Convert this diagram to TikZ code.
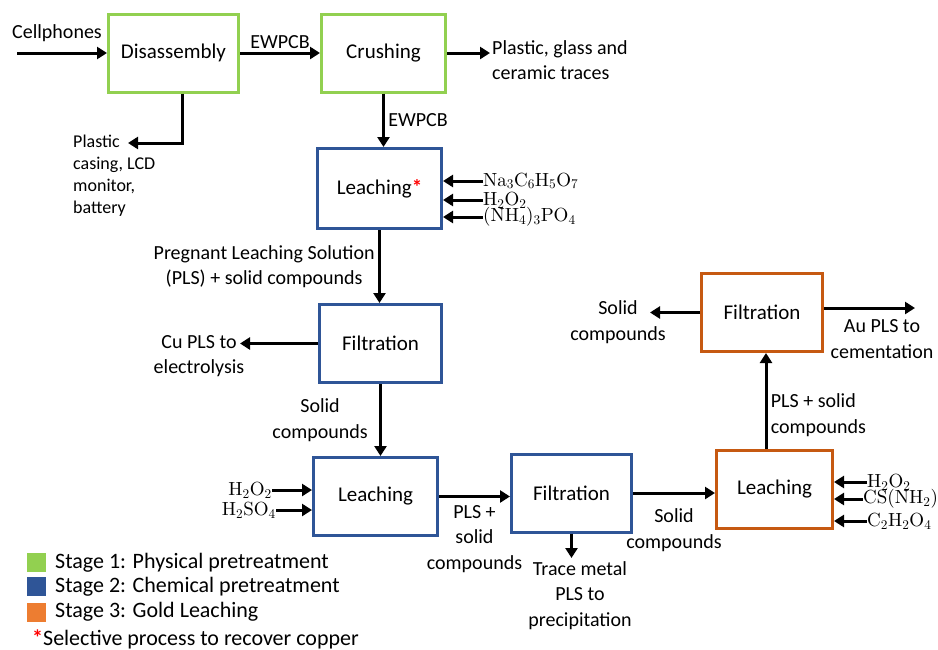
\RequirePackage{fix-cm}
\documentclass[tikz,border=0pt]{standalone}
\usepackage[no-math]{fontspec}
\setmainfont{Carlito}
\newfontfamily\chemfont{lmroman10-regular.otf}
\usepackage{tikz}
\usetikzlibrary{arrows.meta}
\definecolor{stageone}{HTML}{92D050}
\definecolor{stagetwo}{HTML}{2F5597}
\definecolor{stagethree}{HTML}{C65911}
\definecolor{legthree}{HTML}{ED7D31}
\newcommand{\sub}[1]{\textsubscript{#1}}

\begin{document}
\begin{tikzpicture}[x=1pt,y=-1pt,
	font=\fontsize{20}{25.5}\selectfont,
	box/.style={draw,line width=3pt,minimum width=124pt,minimum height=78pt,inner sep=0pt,font=\fontsize{21}{25}\selectfont},
	arr/.style={-{Triangle[length=10pt,width=12pt]},line width=3pt},
	chem/.style={inner sep=0pt,font=\fontsize{19}{21}\chemfont},
	legsq/.style={minimum width=19pt,minimum height=19pt,inner sep=0pt},
	legtxt/.style={anchor=west,inner sep=0pt,font=\fontsize{22}{26}\selectfont}]
	\useasboundingbox (0,0) rectangle (938,649);
	
	\node[box,draw=stageone,minimum width=130pt] (dis) at (173.5,53) {Disassembly};
	\node[box,draw=stageone] (cru) at (383.5,53) {Crushing};
	\node[box,draw=stagetwo,minimum height=80pt] (lea1) at (379.5,188.5) {Leaching{\color{red}\textbf{*}}};
	\node[box,draw=stagetwo,minimum width=122pt] (fil1) at (380.5,343.5) {Filtration};
	\node[box,draw=stagetwo] (lea2) at (375.5,496.5) {Leaching};
	\node[box,draw=stagetwo,minimum width=120pt] (fil2) at (571.5,493) {Filtration};
	\node[box,draw=stagethree,minimum width=116pt] (lea3) at (774.5,489.5) {Leaching};
	\node[box,draw=stagethree,minimum width=121pt] (fil3) at (762,312.5) {Filtration};
	
	\coordinate (cellin) at (17,53);
	\node (cell) at (57,33) {Cellphones};
	\draw[arr] (cellin) -- (dis);
	\draw[arr] (dis) -- (cru) node[midway,above] {EWPCB};
	\node[anchor=west,align=left,inner sep=2pt] (glass) at (490,60) {Plastic, glass and\\ceramic traces};
	\draw[arr] (cru) -- (cru -| glass.west);
	\node[anchor=north west,align=left,inner sep=0pt,font=\fontsize{18}{22}\selectfont] (plast) at (73,135) {Plastic\\casing, LCD\\monitor,\\battery};
	\coordinate (plastend) at (128,143);
	\coordinate (disdown) at ([xshift=8.5pt]dis.south);
	\draw[arr] (disdown) |- (plastend);
	\draw[arr] (cru) -- (cru |- lea1.north) node[midway,right] {EWPCB};
	
	\node[chem,anchor=west] (na) at (483,181) {Na\sub{3}C\sub{6}H\sub{5}O\sub{7}};
	\node[chem,anchor=west] (hh1) at (483,200) {H\sub{2}O\sub{2}};
	\node[chem,anchor=west] (nh) at (483,217) {(NH\sub{4})\sub{3}PO\sub{4}};
	\foreach \c in {na,hh1,nh}
		\draw[arr] (\c.west) -- (\c.west -| lea1.east);
	\draw[arr] (lea1) -- (lea1 |- fil1.north) node[midway,left,align=center] {Pregnant Leaching Solution\\(PLS) + solid compounds};
	
	\node[align=center] (cupls) at (199,356) {Cu PLS to\\electrolysis};
	\coordinate (cuend) at (240,344);
	\draw[arr] (fil1) -- (fil1 -| cuend);
	\draw[arr] (fil1) -- (fil1 |- lea2.north) node[midway,left=8pt,align=center] {Solid\\compounds};
	
	\node[chem,anchor=east] (hh2) at (272,490) {H\sub{2}O\sub{2}};
	\node[chem,anchor=east] (hs) at (276,510) {H\sub{2}SO\sub{4}};
	\foreach \c in {hh2,hs}
		\draw[arr] (\c.east) -- (\c.east -| lea2.west);
	\draw[arr] (lea2) -- (lea2 -| fil2.west) node[midway,below=4pt,align=center] {PLS +\\solid\\compounds};
	
	\node[anchor=north,align=center] (trace) at (580,558) {Trace metal\\PLS to\\precipitation};
	\draw[arr] (fil2) -- (fil2 |- trace.north);
	\draw[arr] (fil2) -- (fil2 -| lea3.west) node[midway,below=11pt,align=center] {Solid\\compounds};
	
	\node[chem,anchor=west] (hh3) at (867,482) {H\sub{2}O\sub{2}};
	\node[chem,anchor=west] (tu) at (863,499) {CS(NH\sub{2})\sub{2}};
	\node[chem,anchor=west] (ox) at (867,521) {C\sub{2}H\sub{2}O\sub{4}};
	\foreach \c in {hh3,tu,ox}
		\draw[arr] (\c.west) -- (\c.west -| lea3.east);
	\coordinate (leaup) at ([xshift=-8.5pt]lea3.north);
	\draw[arr] (leaup) -- (leaup |- fil3.south) node[pos=0.35,right,align=left] {PLS + solid\\compounds};
	
	\node[align=center] (solid3) at (618,322) {Solid\\compounds};
	\coordinate (solidend) at (650,312);
	\draw[arr] (fil3) -- (fil3 -| solidend);
	\node[align=center] (au) at (882,339) {Au PLS to\\cementation};
	\coordinate (austart) at ([yshift=4.5pt]fil3.east);
	\coordinate (auend) at (915,308);
	\draw[arr] (austart) -- (auend);
	
	\node[legsq,fill=stageone] (sq1) at (36.5,562.5) {};
	\node[legsq,fill=stagetwo] (sq2) at (36.5,586.5) {};
	\node[legsq,fill=legthree] (sq3) at (36.5,612) {};
	\node[legtxt] (leg1) at (55,563) {Stage 1: Physical pretreatment};
	\node[legtxt] (leg2) at (55,587) {Stage 2: Chemical pretreatment};
	\node[legtxt] (leg3) at (55,612) {Stage 3: Gold Leaching};
	\node[legtxt] (leg4) at (32,639) {{\color{red}\textbf{*}}Selective process to recover copper};
\end{tikzpicture}
\end{document}
